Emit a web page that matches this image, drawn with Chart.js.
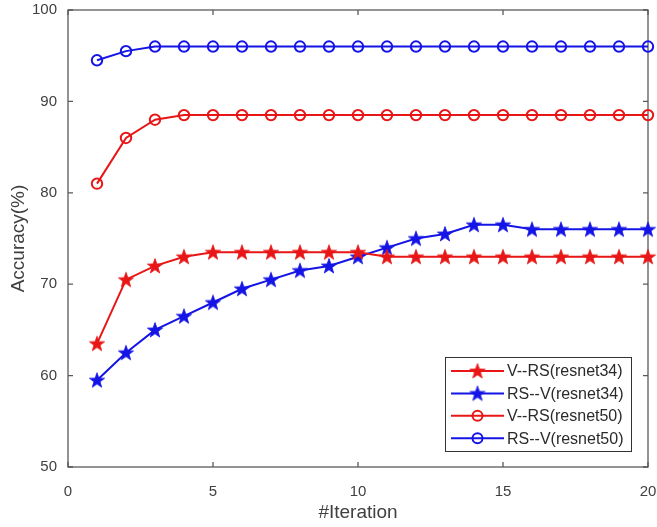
<!DOCTYPE html>
<html>
<head>
<meta charset="utf-8">
<script src="https://cdn.jsdelivr.net/npm/chart.js@4/dist/chart.umd.min.js"></script>
<style>
html,body{margin:0;padding:0;background:#fff;}
#wrap{width:657px;height:527px;position:relative;}
</style>
</head>
<body>
<div id="wrap"><canvas id="c" width="657" height="527"></canvas></div>
<script>
const iterations = [1,2,3,4,5,6,7,8,9,10,11,12,13,14,15,16,17,18,19,20];
const vrsResnet34 = [63.5,70.5,72,73,73.5,73.5,73.5,73.5,73.5,73.5,73,73,73,73,73,73,73,73,73,73];
const rsvResnet34 = [59.5,62.5,65,66.5,68,69.5,70.5,71.5,72,73,74,75,75.5,76.5,76.5,76,76,76,76,76];
const vrsResnet50 = [81,86,88,88.5,88.5,88.5,88.5,88.5,88.5,88.5,88.5,88.5,88.5,88.5,88.5,88.5,88.5,88.5,88.5,88.5];
const rsvResnet50 = [94.5,95.5,96,96,96,96,96,96,96,96,96,96,96,96,96,96,96,96,96,96];
const seriesNames = ['V--RS(resnet34)','RS--V(resnet34)','V--RS(resnet50)','RS--V(resnet50)'];
const xTicks = [0,5,10,15,20];
const yTicks = [50,60,70,80,90,100];

const RED = '#e81616';
const BLUE = '#1414e6';
const FONT = '"Liberation Sans", Arial, sans-serif';

function makeStar(color){
  const s = 18, c = document.createElement('canvas');
  c.width = s; c.height = s;
  const g = c.getContext('2d');
  const R = 8, r = 3.2, cx = s/2, cy = s/2 + 0.6;
  g.beginPath();
  for (let i = 0; i < 10; i++){
    const ang = -Math.PI/2 + i*Math.PI/5;
    const rad = i % 2 === 0 ? R : r;
    const px = cx + rad*Math.cos(ang), py = cy + rad*Math.sin(ang);
    if (i === 0) g.moveTo(px, py); else g.lineTo(px, py);
  }
  g.closePath();
  g.fillStyle = color; g.fill();
  g.lineWidth = 0.8; g.strokeStyle = color; g.stroke();
  return c;
}
const starRed = makeStar(RED);
const starBlue = makeStar(BLUE);

function pts(arr){ return iterations.map((x,i)=>({x:x, y:arr[i]})); }

const datasets = [
  {label: seriesNames[0], data: pts(vrsResnet34), borderColor: RED, backgroundColor: RED, pointStyle: starRed, borderWidth: 2, clip: false},
  {label: seriesNames[1], data: pts(rsvResnet34), borderColor: BLUE, backgroundColor: BLUE, pointStyle: starBlue, borderWidth: 2, clip: false},
  {label: seriesNames[2], data: pts(vrsResnet50), borderColor: RED, pointBorderColor: RED, pointBackgroundColor: 'rgba(0,0,0,0)', backgroundColor: 'rgba(0,0,0,0)', pointStyle: 'circle', pointRadius: 5.2, pointBorderWidth: 2, borderWidth: 2, clip: false},
  {label: seriesNames[3], data: pts(rsvResnet50), borderColor: BLUE, pointBorderColor: BLUE, pointBackgroundColor: 'rgba(0,0,0,0)', backgroundColor: 'rgba(0,0,0,0)', pointStyle: 'circle', pointRadius: 5.2, pointBorderWidth: 2, borderWidth: 2, clip: false}
];

const AXIS = '#5a5a5a';
const boxPlugin = {
  id: 'matlabBox',
  beforeDatasetsDraw(chart){
    const {ctx, chartArea: a, scales: {x, y}} = chart;
    ctx.save();
    ctx.strokeStyle = AXIS;
    ctx.lineWidth = 1.3;
    ctx.strokeRect(a.left, a.top, a.right - a.left, a.bottom - a.top);
    const tl = 5;
    ctx.beginPath();
    xTicks.forEach(v => {
      const px = x.getPixelForValue(v);
      ctx.moveTo(px, a.bottom); ctx.lineTo(px, a.bottom - tl);
      ctx.moveTo(px, a.top); ctx.lineTo(px, a.top + tl);
    });
    yTicks.forEach(v => {
      const py = y.getPixelForValue(v);
      ctx.moveTo(a.left, py); ctx.lineTo(a.left + tl, py);
      ctx.moveTo(a.right, py); ctx.lineTo(a.right - tl, py);
    });
    ctx.stroke();
    ctx.restore();
  },
  afterDraw(chart){
    const {ctx, chartArea: a} = chart;
    const bx = a.right - 203, by = a.bottom - 110, bw = 186, bh = 94;
    ctx.save();
    ctx.fillStyle = '#fff';
    ctx.fillRect(bx, by, bw, bh);
    ctx.strokeStyle = '#333';
    ctx.lineWidth = 1;
    ctx.strokeRect(bx + 0.5, by + 0.5, bw, bh);
    ctx.font = '16px ' + FONT;
    ctx.textBaseline = 'middle';
    ctx.textAlign = 'left';
    chart.data.datasets.forEach((ds, i) => {
      const cy = by + 14 + i * 22.4;
      const x0 = bx + 6, x1 = bx + 59, mx = (x0 + x1) / 2;
      ctx.strokeStyle = ds.borderColor;
      ctx.lineWidth = 2;
      ctx.beginPath(); ctx.moveTo(x0, cy); ctx.lineTo(x1, cy); ctx.stroke();
      if (ds.pointStyle === 'circle'){
        ctx.beginPath(); ctx.arc(mx, cy, 5, 0, Math.PI*2); ctx.stroke();
      } else {
        const img = ds.pointStyle;
        ctx.drawImage(img, mx - img.width/2, cy - img.height/2);
      }
      ctx.fillStyle = '#2a2a2a';
      ctx.fillText(ds.label, bx + 62, cy + 1);
    });
    ctx.restore();
  }
};

new Chart(document.getElementById('c'), {
  type: 'line',
  data: {datasets},
  options: {
    responsive: false,
    animation: false,
    devicePixelRatio: 1,
    layout: {padding: {top: 10, right: 9, left: 0, bottom: 0}},
    plugins: {legend: {display: false}, tooltip: {enabled: false}},
    elements: {line: {tension: 0}},
    scales: {
      x: {
        type: 'linear', min: 0, max: 20,
        afterBuildTicks(s){ s.ticks = xTicks.map(v => ({value: v})); },
        grid: {display: false, drawTicks: false},
        border: {display: false},
        ticks: {padding: 16, color: '#404040', font: {family: FONT, size: 15}, maxRotation: 0, autoSkip: false},
        title: {display: true, text: '#Iteration', color: '#404040', font: {family: FONT, size: 19}, padding: {top: 0, bottom: 3}},
        afterFit(s){ s.height = 60; s.paddingLeft = 0; s.paddingRight = 0; }
      },
      y: {
        type: 'linear', min: 50, max: 100,
        afterBuildTicks(s){ s.ticks = yTicks.map(v => ({value: v})); },
        grid: {display: false, drawTicks: false},
        border: {display: false},
        ticks: {padding: 11, color: '#404040', font: {family: FONT, size: 15}, autoSkip: false},
        title: {display: true, text: 'Accuracy(%)', color: '#404040', font: {family: FONT, size: 19}, padding: {top: 7, bottom: 0}},
        afterFit(s){ s.width = 68; s.paddingTop = 0; s.paddingBottom = 0; }
      }
    }
  },
  plugins: [boxPlugin]
});
</script>
</body>
</html>
